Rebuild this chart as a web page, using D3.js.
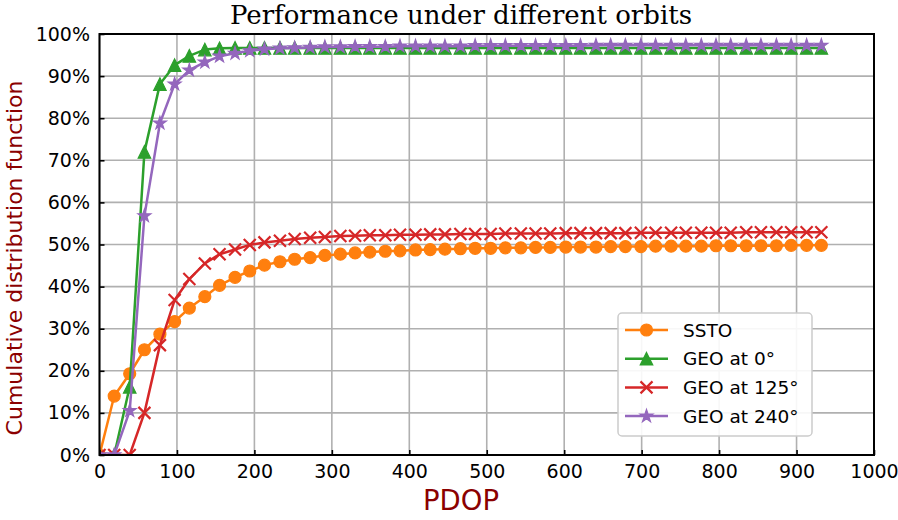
<!DOCTYPE html>
<html>
<head>
<meta charset="utf-8">
<script src="https://cdn.jsdelivr.net/npm/d3@7"></script>
<style>
  html, body { margin: 0; padding: 0; background: #fff; }
  svg { display: block; }
</style>
</head>
<body>
<svg id="chart" width="898" height="520"></svg>
<script>
// ---------------- data ----------------
const pdop = [0, 19, 39, 58, 78, 97, 116, 136, 155, 175,
              194, 213, 233, 252, 272, 291, 311, 330, 349, 369,
              388, 408, 427, 446, 466, 485, 505, 524, 544, 563,
              582, 602, 621, 641, 660, 679, 699, 718, 738, 757,
              777, 796, 815, 835, 854, 874, 893, 913, 932];

const ssto = [0, 14.0, 19.3, 25.0, 28.7, 31.7, 34.9, 37.6, 40.3, 42.2,
              43.7, 45.1, 45.9, 46.5, 46.9, 47.4, 47.7, 48.0, 48.2, 48.4,
              48.5, 48.7, 48.8, 48.9, 49.0, 49.1, 49.1, 49.2, 49.2, 49.3,
              49.3, 49.4, 49.4, 49.4, 49.5, 49.5, 49.5, 49.6, 49.6, 49.6,
              49.6, 49.7, 49.7, 49.7, 49.7, 49.7, 49.8, 49.8, 49.8];

const geo0 = [0, 0, 16.2, 72.0, 88.1, 92.6, 94.8, 96.3, 96.6, 96.7,
              96.7, 96.7, 96.7, 96.7, 96.7, 96.7, 96.7, 96.7, 96.7, 96.7,
              96.7, 96.7, 96.7, 96.7, 96.7, 96.7, 96.7, 96.7, 96.7, 96.7,
              96.7, 96.7, 96.7, 96.7, 96.7, 96.7, 96.7, 96.7, 96.7, 96.7,
              96.7, 96.7, 96.7, 96.7, 96.7, 96.7, 96.7, 96.7, 96.7];

const geo125 = [0, 0, 0, 10.0, 26.1, 36.8, 41.8, 45.5, 47.7, 48.8,
                49.9, 50.5, 50.9, 51.3, 51.6, 51.8, 52.0, 52.1, 52.2, 52.2,
                52.3, 52.3, 52.4, 52.4, 52.5, 52.5, 52.5, 52.6, 52.6, 52.6,
                52.6, 52.7, 52.7, 52.7, 52.7, 52.7, 52.8, 52.8, 52.8, 52.8,
                52.8, 52.8, 52.8, 52.9, 52.9, 52.9, 52.9, 52.9, 52.9];

const geo240 = [0, 0, 10.5, 56.8, 78.8, 88.1, 91.4, 93.3, 94.7, 95.4,
                96.0, 96.4, 96.6, 96.7, 96.8, 96.9, 96.9, 97.0, 97.0, 97.0,
                97.1, 97.1, 97.1, 97.1, 97.1, 97.2, 97.2, 97.2, 97.2, 97.2,
                97.2, 97.2, 97.2, 97.3, 97.3, 97.3, 97.3, 97.3, 97.3, 97.3,
                97.3, 97.3, 97.3, 97.3, 97.3, 97.3, 97.3, 97.3, 97.3];

const seriesNames = ["SSTO", "GEO at 0°", "GEO at 125°", "GEO at 240°"];
const xTicks = [0, 100, 200, 300, 400, 500, 600, 700, 800, 900, 1000];
const yTicks = [0, 10, 20, 30, 40, 50, 60, 70, 80, 90, 100];

const titleText = "Performance under different orbits";
const xLabelText = "PDOP";
const yLabelText = "Cumulative distribution function";

// ---------------- layout ----------------
const svg = d3.select("#chart");
const L = 99.5, R = 874, T = 34, B = 455;

const x = d3.scaleLinear().domain([0, 1000]).range([L, R]);
const y = d3.scaleLinear().domain([0, 100]).range([B, T]);

const series = [
  { name: seriesNames[0], values: ssto,   color: "#ff7f0e", marker: "circle" },
  { name: seriesNames[1], values: geo0,   color: "#2ca02c", marker: "triangle" },
  { name: seriesNames[2], values: geo125, color: "#d62728", marker: "x" },
  { name: seriesNames[3], values: geo240, color: "#9467bd", marker: "star" }
];

const defs = svg.append("defs");
defs.append("clipPath").attr("id", "plotclip")
  .append("rect").attr("x", L).attr("y", T).attr("width", R - L).attr("height", B - T);

// grid
const grid = svg.append("g");
grid.selectAll(".gx").data(xTicks).enter().append("line")
  .attr("x1", d => x(d)).attr("x2", d => x(d)).attr("y1", T).attr("y2", B)
  .attr("stroke", "#b0b0b0").attr("stroke-width", 1.6);
grid.selectAll(".gy").data(yTicks).enter().append("line")
  .attr("x1", L).attr("x2", R).attr("y1", d => y(d)).attr("y2", d => y(d))
  .attr("stroke", "#b0b0b0").attr("stroke-width", 1.6);

// marker path generators (centered at 0,0)
function markerPath(type, ms) {
  const h = ms / 2;
  if (type === "circle") {
    return `M${h},0A${h},${h} 0 1,1 ${-h},0A${h},${h} 0 1,1 ${h},0Z`;
  }
  if (type === "triangle") {
    return `M0,${-h}L${h},${h}L${-h},${h}Z`;
  }
  if (type === "x") {
    return `M${-h},${-h}L${h},${h}M${-h},${h}L${h},${-h}`;
  }
  if (type === "star") {
    const ro = h * 1.08, ri = ro * 0.381966;
    let p = "";
    for (let i = 0; i < 10; i++) {
      const r = i % 2 === 0 ? ro : ri;
      const a = -Math.PI / 2 + i * Math.PI / 5;
      p += (i === 0 ? "M" : "L") + (r * Math.cos(a)).toFixed(2) + "," + (r * Math.sin(a)).toFixed(2);
    }
    return p + "Z";
  }
}

function drawMarker(g, type, color, cx, cy) {
  const ms = type === "circle" ? 12 : (type === "x" ? 12 : 12.5);
  const p = g.append("path").attr("d", markerPath(type, ms))
    .attr("transform", `translate(${cx},${cy})`);
  if (type === "x") {
    p.attr("fill", "none").attr("stroke", color).attr("stroke-width", 2.2);
  } else {
    p.attr("fill", color).attr("stroke", color).attr("stroke-width", 1.2)
     .attr("stroke-linejoin", "miter");
  }
}

const line = d3.line().x((d, i) => x(pdop[i])).y(d => y(d));

const plot = svg.append("g").attr("clip-path", "url(#plotclip)");
series.forEach(s => {
  const g = plot.append("g");
  g.append("path").datum(s.values).attr("d", line)
    .attr("fill", "none").attr("stroke", s.color).attr("stroke-width", 2.5)
    .attr("stroke-linejoin", "round");
  s.values.forEach((v, i) => drawMarker(g, s.marker, s.color, x(pdop[i]), y(v)));
});

// spines
svg.append("rect").attr("x", L).attr("y", T).attr("width", R - L).attr("height", B - T)
  .attr("fill", "none").attr("stroke", "#000").attr("stroke-width", 2);

// axes (ticks inward)
const fontSans = "'DejaVu Sans', sans-serif";
const xAxis = d3.axisBottom(x).tickValues(xTicks).tickFormat(d3.format("d"))
  .tickSizeInner(-5).tickSizeOuter(0).tickPadding(10);
const gx = svg.append("g").attr("transform", `translate(0,${B})`).call(xAxis);
gx.select(".domain").remove();
gx.selectAll(".tick line").attr("stroke", "#000").attr("stroke-width", 1.6);
gx.selectAll(".tick text").attr("font-family", fontSans).attr("font-size", 19).attr("fill", "#000");

const yAxis = d3.axisLeft(y).tickValues(yTicks).tickFormat(d => d + "%")
  .tickSizeInner(-5).tickSizeOuter(0).tickPadding(9.5);
const gy = svg.append("g").attr("transform", `translate(${L},0)`).call(yAxis);
gy.select(".domain").remove();
gy.selectAll(".tick line").attr("stroke", "#000").attr("stroke-width", 1.6);
gy.selectAll(".tick text").attr("font-family", fontSans).attr("font-size", 19).attr("fill", "#000");

// title and labels
svg.append("text").attr("x", 461).attr("y", 24).attr("text-anchor", "middle")
  .attr("font-family", "'DejaVu Serif', serif").attr("font-size", 26).attr("fill", "#000")
  .text(titleText);

svg.append("text").attr("x", 461).attr("y", 510).attr("text-anchor", "middle")
  .attr("font-family", fontSans).attr("font-size", 27.5).attr("fill", "#8b0000")
  .text(xLabelText);

svg.append("text").attr("transform", "translate(22,258) rotate(-90)").attr("text-anchor", "middle")
  .attr("font-family", fontSans).attr("font-size", 22).attr("fill", "#8b0000")
  .text(yLabelText);

// legend
const lg = svg.append("g");
lg.append("rect").attr("x", 618).attr("y", 313).attr("width", 194).attr("height", 123)
  .attr("rx", 4).attr("ry", 4).attr("fill", "#fff").attr("fill-opacity", 0.9)
  .attr("stroke", "#cccccc").attr("stroke-width", 1.5);
series.forEach((s, i) => {
  const cy = 330 + i * 28.7;
  lg.append("line").attr("x1", 625).attr("x2", 668).attr("y1", cy).attr("y2", cy)
    .attr("stroke", s.color).attr("stroke-width", 2.5);
  drawMarker(lg, s.marker, s.color, 646.5, cy);
  lg.append("text").attr("x", 683).attr("y", cy).attr("dy", "0.36em")
    .attr("font-family", fontSans).attr("font-size", 18.5).attr("fill", "#000")
    .text(s.name);
});
</script>
</body>
</html>
